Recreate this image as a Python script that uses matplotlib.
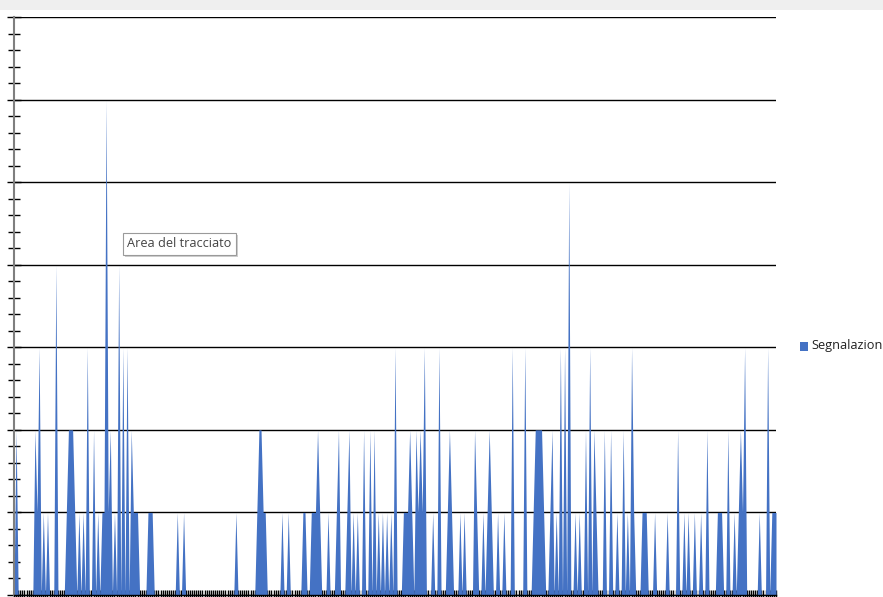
import matplotlib
matplotlib.use('Agg')
import matplotlib.pyplot as plt
from matplotlib.patches import Rectangle
from matplotlib.ticker import MultipleLocator
import numpy as np

# segnalazioni giornaliere (una per giorno, 365 giorni)
segnalazioni = [
    0, 2, 0, 0, 0, 0, 0, 0, 0, 0, 2, 1, 3, 0, 1, 0, 1, 0, 0, 0,
    4, 0, 0, 0, 0, 1, 2, 2, 2, 1, 0, 1, 0, 1, 0, 3, 0, 0, 2, 0,
    1, 0, 1, 1, 6, 1, 2, 0, 1, 0, 4, 0, 3, 0, 3, 0, 2, 1, 1, 1,
    0, 0, 0, 0, 1, 1, 1, 0, 0, 0, 0, 0, 0, 0, 0, 0, 0, 0, 1, 0,
    0, 1, 0, 0, 0, 0, 0, 0, 0, 0, 0, 0, 0, 0, 0, 0, 0, 0, 0, 0,
    0, 0, 0, 0, 0, 0, 1, 0, 0, 0, 0, 0, 0, 0, 0, 0, 1, 2, 2, 1,
    1, 0, 0, 0, 0, 0, 0, 0, 1, 0, 0, 1, 0, 0, 0, 0, 0, 0, 1, 1,
    0, 0, 1, 1, 1, 2, 1, 0, 0, 0, 1, 0, 0, 0, 1, 2, 0, 0, 0, 1,
    2, 0, 1, 0, 1, 0, 0, 2, 0, 0, 2, 0, 2, 0, 1, 0, 1, 0, 1, 0,
    1, 0, 3, 0, 0, 0, 1, 1, 1, 2, 1, 0, 2, 1, 2, 1, 3, 0, 0, 0,
    1, 0, 0, 3, 0, 0, 0, 1, 2, 1, 0, 0, 0, 1, 0, 1, 0, 0, 0, 0,
    2, 1, 0, 0, 1, 0, 1, 2, 1, 0, 0, 1, 0, 0, 1, 0, 0, 0, 3, 0,
    0, 0, 0, 0, 3, 0, 0, 0, 1, 2, 2, 2, 2, 1, 0, 0, 1, 2, 0, 1,
    0, 3, 0, 3, 0, 5, 0, 0, 1, 0, 1, 0, 0, 2, 0, 3, 0, 2, 1, 0,
    0, 0, 2, 0, 0, 2, 0, 0, 1, 0, 0, 2, 0, 1, 0, 3, 1, 0, 0, 0,
    1, 1, 1, 0, 0, 0, 1, 0, 0, 0, 0, 0, 1, 0, 0, 0, 0, 2, 0, 0,
    1, 0, 1, 0, 0, 1, 0, 0, 1, 0, 0, 2, 0, 0, 0, 0, 1, 1, 1, 0,
    0, 2, 0, 0, 1, 0, 1, 2, 1, 3, 0, 0, 0, 0, 0, 0, 1, 0, 0, 0,
    3, 0, 1, 1, 1,
]
serie = 'Segnalazioni'
y_max = 7

blu = '#4472C4'
giorni = np.arange(len(segnalazioni))

fig = plt.figure(figsize=(8.83, 5.97), dpi=100)
W, H = 883, 597

# barra grigia in alto (finestra Excel)
fig.patches.append(Rectangle((0, 1 - 10 / H), 1, 10 / H, transform=fig.transFigure,
                             facecolor='#efefef', edgecolor='none', zorder=0))

ax = fig.add_axes([14 / W, 2 / H, (776 - 14) / W, (595 - 17) / H])
ax.fill_between(giorni, segnalazioni, 0, color=blu, linewidth=0, zorder=2)

ax.set_xlim(0, len(segnalazioni) - 1)
ax.set_ylim(0, y_max)

ax.yaxis.set_major_locator(MultipleLocator(1))
ax.yaxis.set_minor_locator(MultipleLocator(0.2))
ax.grid(axis='y', which='major', color='black', linewidth=1.0, zorder=1)
ax.set_axisbelow(True)

ax.set_xticks(giorni)
ax.tick_params(axis='x', which='major', direction='inout', length=7, width=1,
               color='black', labelbottom=False)
ax.tick_params(axis='y', which='major', direction='inout', length=10, width=1,
               color='black', labelleft=False)
ax.tick_params(axis='y', which='minor', direction='inout', length=8, width=1,
               color='black')

for s in ['top', 'right']:
    ax.spines[s].set_visible(False)
ax.spines['left'].set_color('#7f7f7f')
ax.spines['left'].set_linewidth(1.5)
ax.spines['bottom'].set_color('black')
ax.spines['bottom'].set_linewidth(1)

# legenda a destra
fig.patches.append(Rectangle((800 / W, 1 - 351 / H), 8 / W, 9 / H, transform=fig.transFigure,
                             facecolor=blu, edgecolor='none'))
fig.text(811 / W, 1 - 346 / H, serie, fontsize=9.2, family='Open Sans',
         va='center', ha='left', color='#222222')

# tooltip
fig.text(127 / W + 2 / W, 1 - 244 / H - 2 / H, 'Area del tracciato', fontsize=9.2,
         family='Open Sans', va='center', ha='left', color=(0, 0, 0, 0),
         bbox=dict(boxstyle='square,pad=0.35', fc='#cfcfcf', ec='none'))
fig.text(127 / W, 1 - 244 / H, 'Area del tracciato', fontsize=9.2, family='Open Sans',
         va='center', ha='left', color='#444444',
         bbox=dict(boxstyle='square,pad=0.35', fc='white', ec='#9a9a9a', lw=0.8))

fig.savefig('out.png', dpi=100)
